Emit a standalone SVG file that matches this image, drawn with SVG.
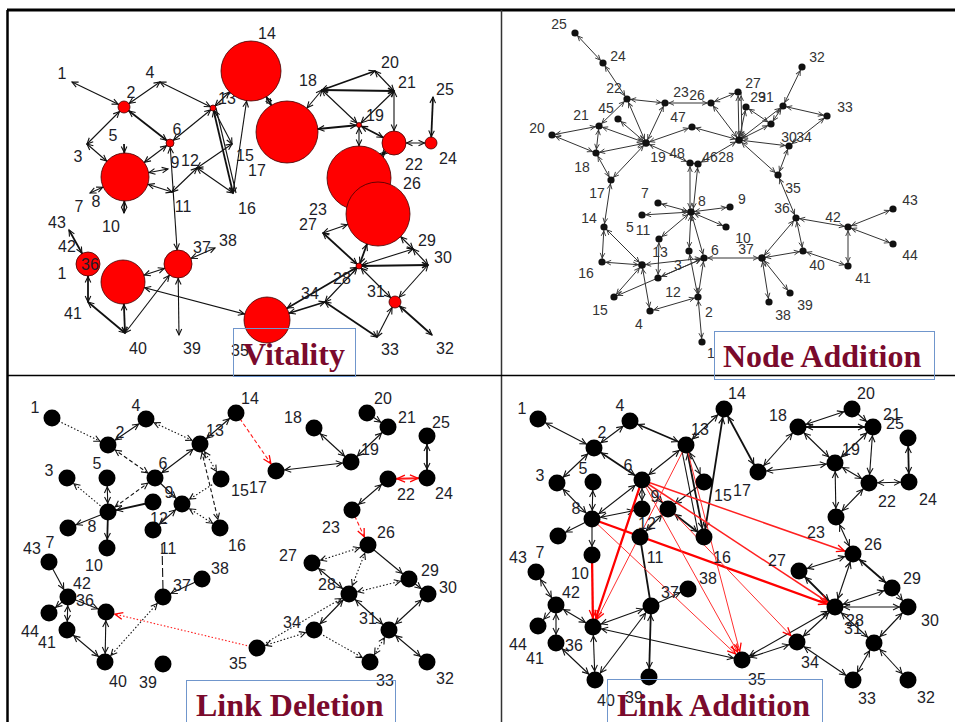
<svg xmlns="http://www.w3.org/2000/svg" width="955" height="722" viewBox="0 0 955 722">
<style>
.e{stroke:#111;stroke-width:1.1;fill:none}
.t{stroke-width:1.8}
.g{stroke:#333;stroke-width:1;fill:none}
.dt{stroke-dasharray:1.5 2}
.ds{stroke-dasharray:4 2.5}
.ld{stroke-dasharray:9 3}
.rd{stroke:#ff1a1a}
.w1{stroke:#ff3030;stroke-width:1}
.w2{stroke:#ff2020;stroke-width:1.5}
.w3{stroke:#ff0000;stroke-width:2.3}
.rc{fill:#ff0000;stroke:#400000;stroke-width:0.8}
.dot{fill:#111}
.bn{fill:#000}
.lv{font-family:"Liberation Sans",Arial,sans-serif;font-size:16px;fill:#1d1d28;text-anchor:middle}
.ln{font-family:"Liberation Sans",Arial,sans-serif;font-size:14px;fill:#333;text-anchor:middle}
.tag{fill:none;stroke:#7096cc;stroke-width:1}
.ttl{font-family:"Liberation Serif","Times New Roman",serif;font-weight:bold;font-size:32px;fill:#7a0a2c}
.ah{fill:none;stroke:#111;stroke-width:1.1}
.ag{fill:none;stroke:#333;stroke-width:0.9}
.ar{fill:none;stroke:#ff0000;stroke-width:1.3}
.a0s{marker-start:url(#k0)}.a0e{marker-end:url(#k0)}
.a3s{marker-start:url(#k3)}.a3e{marker-end:url(#k3)}
.a4s{marker-start:url(#k4)}.a4e{marker-end:url(#k4)}
.a6s{marker-start:url(#k6)}.a6e{marker-end:url(#k6)}
.a12s{marker-start:url(#k12)}.a12e{marker-end:url(#k12)}
.a14s{marker-start:url(#k14)}.a14e{marker-end:url(#k14)}
.a22e{marker-end:url(#k22)}
.a23s{marker-start:url(#k23)}.a23e{marker-end:url(#k23)}
.a24s{marker-start:url(#k24)}.a24e{marker-end:url(#k24)}
.a30s{marker-start:url(#k30)}.a30e{marker-end:url(#k30)}
.a31e{marker-end:url(#k31)}
.a32s{marker-start:url(#k32)}.a32e{marker-end:url(#k32)}
.gb{marker-start:url(#g4);marker-end:url(#g4)}
.bs{marker-start:url(#k9)}.be{marker-end:url(#k9)}
.rs{marker-start:url(#r9)}.re{marker-end:url(#r9)}
</style>
<defs>
<marker id="k0" viewBox="-12 -6 24 12" markerWidth="24" markerHeight="12" refX="0" refY="0" orient="auto-start-reverse" markerUnits="userSpaceOnUse"><path class="ah" d="M-6,-2.8 L0,0 L-6,2.8"/></marker>
<marker id="k3" viewBox="-12 -6 24 12" markerWidth="24" markerHeight="12" refX="3" refY="0" orient="auto-start-reverse" markerUnits="userSpaceOnUse"><path class="ah" d="M-6,-2.8 L0,0 L-6,2.8"/></marker>
<marker id="k4" viewBox="-12 -6 24 12" markerWidth="24" markerHeight="12" refX="4.5" refY="0" orient="auto-start-reverse" markerUnits="userSpaceOnUse"><path class="ah" d="M-6,-2.8 L0,0 L-6,2.8"/></marker>
<marker id="k6" viewBox="-12 -6 24 12" markerWidth="24" markerHeight="12" refX="6.5" refY="0" orient="auto-start-reverse" markerUnits="userSpaceOnUse"><path class="ah" d="M-6,-2.8 L0,0 L-6,2.8"/></marker>
<marker id="k12" viewBox="-12 -6 24 12" markerWidth="24" markerHeight="12" refX="12.5" refY="0" orient="auto-start-reverse" markerUnits="userSpaceOnUse"><path class="ah" d="M-6,-2.8 L0,0 L-6,2.8"/></marker>
<marker id="k14" viewBox="-12 -6 24 12" markerWidth="24" markerHeight="12" refX="14.5" refY="0" orient="auto-start-reverse" markerUnits="userSpaceOnUse"><path class="ah" d="M-6,-2.8 L0,0 L-6,2.8"/></marker>
<marker id="k22" viewBox="-12 -6 24 12" markerWidth="24" markerHeight="12" refX="22.5" refY="0" orient="auto-start-reverse" markerUnits="userSpaceOnUse"><path class="ah" d="M-6,-2.8 L0,0 L-6,2.8"/></marker>
<marker id="k23" viewBox="-12 -6 24 12" markerWidth="24" markerHeight="12" refX="23.5" refY="0" orient="auto-start-reverse" markerUnits="userSpaceOnUse"><path class="ah" d="M-6,-2.8 L0,0 L-6,2.8"/></marker>
<marker id="k24" viewBox="-12 -6 24 12" markerWidth="24" markerHeight="12" refX="24.5" refY="0" orient="auto-start-reverse" markerUnits="userSpaceOnUse"><path class="ah" d="M-6,-2.8 L0,0 L-6,2.8"/></marker>
<marker id="k30" viewBox="-12 -6 24 12" markerWidth="24" markerHeight="12" refX="30.5" refY="0" orient="auto-start-reverse" markerUnits="userSpaceOnUse"><path class="ah" d="M-6,-2.8 L0,0 L-6,2.8"/></marker>
<marker id="k31" viewBox="-12 -6 24 12" markerWidth="24" markerHeight="12" refX="31.5" refY="0" orient="auto-start-reverse" markerUnits="userSpaceOnUse"><path class="ah" d="M-6,-2.8 L0,0 L-6,2.8"/></marker>
<marker id="k32" viewBox="-12 -6 24 12" markerWidth="24" markerHeight="12" refX="32.5" refY="0" orient="auto-start-reverse" markerUnits="userSpaceOnUse"><path class="ah" d="M-6,-2.8 L0,0 L-6,2.8"/></marker>
<marker id="g4" viewBox="-12 -6 24 12" markerWidth="24" markerHeight="12" refX="4" refY="0" orient="auto-start-reverse" markerUnits="userSpaceOnUse"><path class="ag" d="M-5,-2.3 L0,0 L-5,2.3"/></marker>
<marker id="k9" viewBox="-12 -6 24 12" markerWidth="24" markerHeight="12" refX="9" refY="0" orient="auto-start-reverse" markerUnits="userSpaceOnUse"><path class="ah" d="M-6,-3 L0,0 L-6,3"/></marker>
<marker id="r9" viewBox="-12 -6 24 12" markerWidth="24" markerHeight="12" refX="9" refY="0" orient="auto-start-reverse" markerUnits="userSpaceOnUse"><path class="ar" d="M-8,-3.5 L0,0 L-8,3.5"/></marker>
</defs>

<rect width="955" height="722" fill="#fff"/>

<!-- panel frame -->
<g id="frame" fill="none" stroke="#000">
<path d="M7,10 H955" stroke-width="3"/>
<path d="M7.5,10 V722" stroke-width="2.5"/>
<path d="M501.5,10 V722" stroke-width="1.5" stroke="#333"/>
<path d="M7,375.5 H955" stroke-width="1.5"/>
</g>

<!-- ===== Vitality ===== -->
<g id="v-edges">
<line class="e a0s a6e" x1="72" y1="82" x2="124" y2="107"/>
<line class="e a6s a0e" x1="124" y1="107" x2="160" y2="82"/>
<line class="e a0s a3e" x1="160" y1="82" x2="213" y2="108"/>
<line class="e a6s a0e" x1="124" y1="107" x2="87" y2="144"/>
<line class="e t a6s a4e" x1="124" y1="107" x2="170" y2="143"/>
<line class="e a0s a24e" x1="87" y1="144" x2="125" y2="177"/>
<line class="e t a24e" x1="124" y1="144" x2="125" y2="177"/>
<line class="e t a24s a0e" x1="125" y1="177" x2="124" y2="213"/>
<line class="e a24s a0e" x1="125" y1="177" x2="90" y2="193"/>
<line class="e a4s a24e" x1="170" y1="143" x2="125" y2="177"/>
<line class="e a24s a0e" x1="125" y1="177" x2="168" y2="169"/>
<line class="e a24s a0e" x1="125" y1="177" x2="172" y2="192"/>
<line class="e a0s a0e" x1="172" y1="192" x2="197" y2="168"/>
<line class="e a0s a0e" x1="197" y1="168" x2="232" y2="144"/>
<line class="e a0s a0e" x1="197" y1="168" x2="233" y2="193"/>
<line class="e a4s a3e" x1="170" y1="143" x2="213" y2="108"/>
<line class="e a3s a0e" x1="213" y1="108" x2="232" y2="144"/>
<line class="e t a3s a0e" x1="213" y1="108" x2="233" y2="193"/>
<line class="e" x1="216" y1="108" x2="236" y2="193"/>
<line class="e a0s a30e" x1="233" y1="193" x2="251" y2="71"/>
<line class="e a4s a14e" x1="170" y1="143" x2="178" y2="264"/>
<line class="e a3s a30e" x1="213" y1="108" x2="251" y2="71"/>
<line class="e t a30s a31e" x1="251" y1="71" x2="287" y2="132"/>
<line class="e a0s a31e" x1="322" y1="90" x2="287" y2="132"/>
<line class="e t a0s a0e" x1="322" y1="90" x2="375" y2="71"/>
<line class="e t a0s a0e" x1="322" y1="90" x2="394" y2="91"/>
<line class="e a0s a3e" x1="322" y1="90" x2="359" y2="125"/>
<line class="e a0s a0e" x1="375" y1="71" x2="394" y2="91"/>
<line class="e a0s a3e" x1="394" y1="91" x2="359" y2="125"/>
<line class="e a0s a12e" x1="394" y1="91" x2="394" y2="143"/>
<line class="e t a3s a31e" x1="359" y1="125" x2="287" y2="132"/>
<line class="e t a3s a12e" x1="359" y1="125" x2="394" y2="143"/>
<line class="e a3s a32e" x1="359" y1="125" x2="359" y2="178"/>
<line class="e t a12s a32e" x1="394" y1="143" x2="359" y2="178"/>
<line class="e a12s a6e" x1="394" y1="143" x2="431" y2="143"/>
<line class="e t a6s a0e" x1="431" y1="143" x2="433" y2="97"/>
<line class="e a32s a0e" x1="378" y1="214" x2="323" y2="233"/>
<line class="e t a0s a3e" x1="323" y1="233" x2="359" y2="266"/>
<line class="e t a32s a3e" x1="378" y1="214" x2="359" y2="266"/>
<line class="e a32s a0e" x1="378" y1="214" x2="413" y2="249"/>
<line class="e a3s a0e" x1="359" y1="266" x2="413" y2="249"/>
<line class="e t a3s a0e" x1="359" y1="266" x2="428" y2="265"/>
<line class="e a0s a0e" x1="413" y1="249" x2="428" y2="265"/>
<line class="e a0s a6e" x1="428" y1="265" x2="395" y2="302"/>
<line class="e a3s a6e" x1="359" y1="266" x2="395" y2="302"/>
<line class="e a3s a0e" x1="359" y1="266" x2="325" y2="302"/>
<line class="e t a3s a23e" x1="359" y1="266" x2="267" y2="320"/>
<line class="e t a0s a23e" x1="325" y1="302" x2="267" y2="320"/>
<line class="e t a0s a0e" x1="325" y1="302" x2="377" y2="337"/>
<line class="e a0s a6e" x1="377" y1="337" x2="395" y2="302"/>
<line class="e t a6s a0e" x1="395" y1="302" x2="432" y2="335"/>
<line class="e a23s a22e" x1="267" y1="320" x2="123" y2="282"/>
<line class="e a14s a22e" x1="178" y1="264" x2="123" y2="282"/>
<line class="e a14s a0e" x1="178" y1="264" x2="215" y2="248"/>
<line class="e a14s a0e" x1="178" y1="264" x2="179" y2="335"/>
<line class="e a0s a14e" x1="125" y1="333" x2="178" y2="264"/>
<line class="e t a0s a22e" x1="125" y1="333" x2="123" y2="282"/>
<line class="e t a0s a0e" x1="125" y1="333" x2="88" y2="302"/>
<line class="e t a0s a12e" x1="88" y1="302" x2="88" y2="264"/>
<line class="e t a0s a12e" x1="69" y1="230" x2="88" y2="264"/>
</g>
<g id="v-nodes">
<g id="v-n1"><text class="lv" x="62" y="79">1</text></g>
<g id="v-n2"><circle class="rc" cx="124" cy="107" r="6"/><text class="lv" x="131" y="98">2</text></g>
<g id="v-n4"><text class="lv" x="150" y="78">4</text></g>
<g id="v-n13"><circle class="rc" cx="213" cy="108" r="3"/><text class="lv" x="227" y="104">13</text></g>
<g id="v-n3"><text class="lv" x="78" y="162">3</text></g>
<g id="v-n5"><text class="lv" x="113" y="141">5</text></g>
<g id="v-n8"><circle class="rc" cx="125" cy="177" r="24"/><text class="lv" x="96" y="207">8</text></g>
<g id="v-n7"><text class="lv" x="79" y="212">7</text></g>
<g id="v-n10"><text class="lv" x="111" y="232">10</text></g>
<g id="v-n6"><circle class="rc" cx="170" cy="143" r="4"/><text class="lv" x="177" y="135">6</text></g>
<g id="v-n9"><text class="lv" x="175" y="168">9</text></g>
<g id="v-n12"><text class="lv" x="190" y="166">12</text></g>
<g id="v-n11"><text class="lv" x="183" y="212">11</text></g>
<g id="v-n15"><text class="lv" x="245" y="161">15</text></g>
<g id="v-n16"><text class="lv" x="247" y="214">16</text></g>
<g id="v-n14"><circle class="rc" cx="251" cy="71" r="30"/><text class="lv" x="267" y="39">14</text></g>
<g id="v-n17"><circle class="rc" cx="287" cy="132" r="31"/><text class="lv" x="257" y="176">17</text></g>
<g id="v-n18"><text class="lv" x="308" y="86">18</text></g>
<g id="v-n20"><text class="lv" x="390" y="68">20</text></g>
<g id="v-n21"><text class="lv" x="407" y="88">21</text></g>
<g id="v-n19"><circle class="rc" cx="359" cy="125" r="2.5"/><text class="lv" x="375" y="121">19</text></g>
<g id="v-n22"><circle class="rc" cx="394" cy="143" r="12"/><text class="lv" x="414" y="170">22</text></g>
<g id="v-n24"><circle class="rc" cx="431" cy="143" r="6"/><text class="lv" x="448" y="164">24</text></g>
<g id="v-n25"><text class="lv" x="445" y="95">25</text></g>
<g id="v-n23"><circle class="rc" cx="359" cy="178" r="32"/><text class="lv" x="318" y="215">23</text></g>
<g id="v-n26"><circle class="rc" cx="378" cy="214" r="32"/><text class="lv" x="412" y="189">26</text></g>
<g id="v-n27"><text class="lv" x="308" y="230">27</text></g>
<g id="v-n29"><text class="lv" x="427" y="246">29</text></g>
<g id="v-n30"><text class="lv" x="443" y="263">30</text></g>
<g id="v-n28"><circle class="rc" cx="359" cy="266" r="3"/><text class="lv" x="342" y="284">28</text></g>
<g id="v-n31"><circle class="rc" cx="395" cy="302" r="6"/><text class="lv" x="376" y="297">31</text></g>
<g id="v-n34"><text class="lv" x="310" y="299">34</text></g>
<g id="v-n33"><text class="lv" x="390" y="355">33</text></g>
<g id="v-n32"><text class="lv" x="445" y="354">32</text></g>
<g id="v-n35"><circle class="rc" cx="267" cy="320" r="23"/><text class="lv" x="240" y="356">35</text></g>
<g id="v-n43"><text class="lv" x="57" y="228">43</text></g>
<g id="v-n42"><circle class="rc" cx="88" cy="264" r="12"/><text class="lv" x="67" y="252">42</text></g>
<g id="v-n44"><text class="lv" x="62" y="279">1</text></g>
<g id="v-n36"><circle class="rc" cx="123" cy="282" r="22"/><text class="lv" x="90" y="270">36</text></g>
<g id="v-n41"><text class="lv" x="73" y="319">41</text></g>
<g id="v-n40"><text class="lv" x="138" y="354">40</text></g>
<g id="v-n37"><circle class="rc" cx="178" cy="264" r="14"/><text class="lv" x="202" y="253">37</text></g>
<g id="v-n38"><text class="lv" x="228" y="246">38</text></g>
<g id="v-n39"><text class="lv" x="192" y="354">39</text></g>
</g>
<g id="v-title"><rect class="tag" x="233.5" y="328.5" width="122" height="48"/><text class="ttl" x="243" y="365">Vitality</text></g>

<!-- ===== Node Addition ===== -->
<g id="na-edges">
<line class="g gb" x1="575" y1="33" x2="603" y2="63"/>
<line class="g gb" x1="603" y1="63" x2="627" y2="99"/>
<line class="g gb" x1="627" y1="99" x2="599" y2="126"/>
<line class="g gb" x1="627" y1="99" x2="665" y2="103"/>
<line class="g gb" x1="627" y1="99" x2="646" y2="143"/>
<line class="g gb" x1="665" y1="103" x2="646" y2="143"/>
<line class="g gb" x1="665" y1="103" x2="711" y2="103"/>
<line class="g gb" x1="711" y1="103" x2="738" y2="92"/>
<line class="g gb" x1="711" y1="103" x2="739" y2="140"/>
<line class="g gb" x1="738" y1="92" x2="739" y2="140"/>
<line class="g gb" x1="741" y1="92" x2="742" y2="140"/>
<line class="g gb" x1="746" y1="107" x2="739" y2="140"/>
<line class="g gb" x1="746" y1="107" x2="771" y2="124"/>
<line class="g gb" x1="771" y1="124" x2="739" y2="140"/>
<line class="g gb" x1="783" y1="106" x2="771" y2="124"/>
<line class="g gb" x1="783" y1="106" x2="739" y2="140"/>
<line class="g gb" x1="783" y1="106" x2="802" y2="67"/>
<line class="g gb" x1="783" y1="106" x2="827" y2="116"/>
<line class="g gb" x1="789" y1="146" x2="827" y2="116"/>
<line class="g gb" x1="739" y1="140" x2="789" y2="146"/>
<line class="g gb" x1="739" y1="140" x2="778" y2="175"/>
<line class="g gb" x1="789" y1="146" x2="778" y2="175"/>
<line class="g gb" x1="739" y1="140" x2="692" y2="127"/>
<line class="g gb" x1="692" y1="127" x2="646" y2="143"/>
<line class="g gb" x1="646" y1="143" x2="690" y2="163"/>
<line class="g gb" x1="690" y1="163" x2="698" y2="164"/>
<line class="g gb" x1="698" y1="164" x2="739" y2="140"/>
<line class="g gb" x1="646" y1="143" x2="618" y2="119"/>
<line class="g gb" x1="646" y1="143" x2="599" y2="126"/>
<line class="g gb" x1="646" y1="143" x2="596" y2="153"/>
<line class="g gb" x1="646" y1="143" x2="611" y2="180"/>
<line class="g gb" x1="552" y1="135" x2="599" y2="126"/>
<line class="g gb" x1="552" y1="135" x2="596" y2="153"/>
<line class="g gb" x1="599" y1="126" x2="596" y2="153"/>
<line class="g gb" x1="596" y1="153" x2="611" y2="180"/>
<line class="g gb" x1="611" y1="180" x2="604" y2="227"/>
<line class="g gb" x1="604" y1="227" x2="602" y2="262"/>
<line class="g gb" x1="604" y1="227" x2="642" y2="265"/>
<line class="g gb" x1="602" y1="262" x2="642" y2="265"/>
<line class="g gb" x1="642" y1="265" x2="614" y2="297"/>
<line class="g gb" x1="642" y1="265" x2="650" y2="311"/>
<line class="g gb" x1="642" y1="265" x2="704" y2="258"/>
<line class="g gb" x1="658" y1="278" x2="704" y2="258"/>
<line class="g gb" x1="614" y1="297" x2="704" y2="258"/>
<line class="g gb" x1="659" y1="239" x2="658" y2="278"/>
<line class="g gb" x1="691" y1="212" x2="659" y2="239"/>
<line class="g gb" x1="691" y1="212" x2="658" y2="203"/>
<line class="g gb" x1="691" y1="212" x2="642" y2="215"/>
<line class="g gb" x1="691" y1="212" x2="730" y2="207"/>
<line class="g gb" x1="691" y1="212" x2="726" y2="227"/>
<line class="g gb" x1="691" y1="212" x2="689" y2="251"/>
<line class="g gb" x1="691" y1="212" x2="704" y2="258"/>
<line class="g gb" x1="690" y1="163" x2="690" y2="212"/>
<line class="g gb" x1="698" y1="164" x2="693" y2="212"/>
<line class="g gb" x1="689" y1="251" x2="698" y2="297"/>
<line class="g gb" x1="704" y1="258" x2="698" y2="297"/>
<line class="g gb" x1="698" y1="297" x2="650" y2="311"/>
<line class="g gb" x1="698" y1="297" x2="702" y2="342"/>
<line class="g gb" x1="704" y1="258" x2="762" y2="258"/>
<line class="g gb" x1="762" y1="258" x2="796" y2="218"/>
<line class="g gb" x1="762" y1="258" x2="803" y2="251"/>
<line class="g gb" x1="762" y1="258" x2="769" y2="302"/>
<line class="g gb" x1="762" y1="258" x2="790" y2="293"/>
<line class="g gb" x1="796" y1="218" x2="803" y2="251"/>
<line class="g gb" x1="796" y1="218" x2="848" y2="227"/>
<line class="g gb" x1="848" y1="227" x2="848" y2="266"/>
<line class="g gb" x1="803" y1="251" x2="848" y2="266"/>
<line class="g gb" x1="848" y1="227" x2="893" y2="209"/>
<line class="g gb" x1="848" y1="227" x2="893" y2="244"/>
<line class="g gb" x1="796" y1="218" x2="778" y2="175"/>
</g>
<g id="na-nodes">
<g id="na-25"><circle class="dot" cx="575" cy="33" r="3.6"/><text class="ln" x="559" y="29">25</text></g>
<g id="na-24"><circle class="dot" cx="603" cy="63" r="3.6"/><text class="ln" x="618" y="61">24</text></g>
<g id="na-22"><circle class="dot" cx="627" cy="99" r="3.6"/><text class="ln" x="614" y="93">22</text></g>
<g id="na-23"><circle class="dot" cx="665" cy="103" r="3.6"/><text class="ln" x="681" y="97">23</text></g>
<g id="na-26"><circle class="dot" cx="711" cy="103" r="3.6"/><text class="ln" x="697" y="100">26</text></g>
<g id="na-27"><circle class="dot" cx="738" cy="92" r="3.6"/><text class="ln" x="753" y="88">27</text></g>
<g id="na-29"><circle class="dot" cx="746" cy="107" r="3.6"/><text class="ln" x="758" y="102">29</text></g>
<g id="na-31"><circle class="dot" cx="783" cy="106" r="3.6"/><text class="ln" x="766" y="102">31</text></g>
<g id="na-32"><circle class="dot" cx="802" cy="67" r="3.6"/><text class="ln" x="817" y="62">32</text></g>
<g id="na-33"><circle class="dot" cx="827" cy="116" r="3.6"/><text class="ln" x="845" y="112">33</text></g>
<g id="na-50"><circle class="dot" cx="771" cy="124" r="3.6"/></g>
<g id="na-28"><circle class="dot" cx="739" cy="140" r="3.8"/><text class="ln" x="726" y="162">28</text></g>
<g id="na-47"><circle class="dot" cx="692" cy="127" r="3.6"/><text class="ln" x="678" y="122">47</text></g>
<g id="na-45"><circle class="dot" cx="618" cy="119" r="3.6"/><text class="ln" x="606" y="113">45</text></g>
<g id="na-21"><circle class="dot" cx="599" cy="126" r="3.6"/><text class="ln" x="581" y="120">21</text></g>
<g id="na-20"><circle class="dot" cx="552" cy="135" r="3.6"/><text class="ln" x="537" y="133">20</text></g>
<g id="na-18"><circle class="dot" cx="596" cy="153" r="3.6"/><text class="ln" x="582" y="172">18</text></g>
<g id="na-19"><circle class="dot" cx="646" cy="143" r="3.8"/><text class="ln" x="658" y="162">19</text></g>
<g id="na-48"><circle class="dot" cx="690" cy="163" r="3.6"/><text class="ln" x="677" y="158">48</text></g>
<g id="na-46"><circle class="dot" cx="698" cy="164" r="3.6"/><text class="ln" x="710" y="162">46</text></g>
<g id="na-30"><circle class="dot" cx="789" cy="146" r="3.6"/><text class="ln" x="789" y="142">30</text></g>
<g id="na-34"><text class="ln" x="804" y="142">34</text></g>
<g id="na-35"><circle class="dot" cx="778" cy="175" r="3.6"/><text class="ln" x="793" y="193">35</text></g>
<g id="na-17"><circle class="dot" cx="611" cy="180" r="3.6"/><text class="ln" x="597" y="198">17</text></g>
<g id="na-14"><circle class="dot" cx="604" cy="227" r="3.6"/><text class="ln" x="589" y="223">14</text></g>
<g id="na-16"><circle class="dot" cx="602" cy="262" r="3.6"/><text class="ln" x="586" y="278">16</text></g>
<g id="na-13"><circle class="dot" cx="642" cy="265" r="3.8"/><text class="ln" x="660" y="257">13</text></g>
<g id="na-12"><circle class="dot" cx="658" cy="278" r="3.6"/><text class="ln" x="673" y="297">12</text></g>
<g id="na-15"><circle class="dot" cx="614" cy="297" r="3.6"/><text class="ln" x="600" y="315">15</text></g>
<g id="na-4"><circle class="dot" cx="650" cy="311" r="3.6"/><text class="ln" x="639" y="329">4</text></g>
<g id="na-3"><circle class="dot" cx="689" cy="251" r="3.6"/><text class="ln" x="678" y="270">3</text></g>
<g id="na-6"><circle class="dot" cx="704" cy="258" r="3.6"/><text class="ln" x="715" y="255">6</text></g>
<g id="na-2"><circle class="dot" cx="698" cy="297" r="3.6"/><text class="ln" x="709" y="317">2</text></g>
<g id="na-1"><circle class="dot" cx="702" cy="342" r="3.6"/><text class="ln" x="711" y="358">1</text></g>
<g id="na-7"><circle class="dot" cx="658" cy="203" r="3.6"/><text class="ln" x="645" y="198">7</text></g>
<g id="na-8"><circle class="dot" cx="691" cy="212" r="3.8"/><text class="ln" x="702" y="206">8</text></g>
<g id="na-9"><circle class="dot" cx="730" cy="207" r="3.6"/><text class="ln" x="742" y="204">9</text></g>
<g id="na-10"><circle class="dot" cx="726" cy="227" r="3.6"/><text class="ln" x="743" y="243">10</text></g>
<g id="na-11"><circle class="dot" cx="642" cy="215" r="3.6"/><text class="ln" x="643" y="235">11</text></g>
<g id="na-5"><circle class="dot" cx="659" cy="239" r="3.6"/><text class="ln" x="630" y="232">5</text></g>
<g id="na-37"><circle class="dot" cx="762" cy="258" r="3.8"/><text class="ln" x="746" y="254">37</text></g>
<g id="na-36"><circle class="dot" cx="796" cy="218" r="3.6"/><text class="ln" x="782" y="213">36</text></g>
<g id="na-42"><circle class="dot" cx="848" cy="227" r="3.6"/><text class="ln" x="833" y="222">42</text></g>
<g id="na-43"><circle class="dot" cx="893" cy="209" r="3.6"/><text class="ln" x="910" y="205">43</text></g>
<g id="na-44"><circle class="dot" cx="893" cy="244" r="3.6"/><text class="ln" x="910" y="260">44</text></g>
<g id="na-41"><circle class="dot" cx="848" cy="266" r="3.6"/><text class="ln" x="863" y="283">41</text></g>
<g id="na-40"><circle class="dot" cx="803" cy="251" r="3.6"/><text class="ln" x="817" y="270">40</text></g>
<g id="na-38"><circle class="dot" cx="769" cy="302" r="3.6"/><text class="ln" x="783" y="320">38</text></g>
<g id="na-39"><circle class="dot" cx="790" cy="293" r="3.6"/><text class="ln" x="805" y="310">39</text></g>
</g>
<g id="na-title"><rect class="tag" x="714.5" y="331.5" width="220" height="48"/><text class="ttl" x="723" y="367">Node Addition</text></g>

<!-- ===== Link Deletion ===== -->
<g id="ld-edges">
<line class="e dt be" x1="52" y1="418" x2="108" y2="445"/>
<line class="e bs be" x1="108" y1="445" x2="146" y2="419"/>
<line class="e dt bs be" x1="146" y1="419" x2="200" y2="444"/>
<line class="e bs be" x1="200" y1="444" x2="236" y2="413"/>
<line class="e ds rd re" x1="236" y1="413" x2="276" y2="471"/>
<line class="e ds bs be" x1="108" y1="445" x2="155" y2="478"/>
<line class="e bs be" x1="155" y1="478" x2="200" y2="444"/>
<line class="e dt bs be" x1="200" y1="444" x2="221" y2="479"/>
<line class="e ds bs be" x1="200" y1="444" x2="220" y2="528"/>
<line class="e dt be" x1="221" y1="479" x2="182" y2="504"/>
<line class="e dt bs be" x1="182" y1="504" x2="220" y2="528"/>
<line class="e be" x1="155" y1="478" x2="182" y2="504"/>
<line class="e ds bs be" x1="155" y1="478" x2="108" y2="512"/>
<line class="e t be" x1="153" y1="502" x2="108" y2="512"/>
<line class="e dt bs" x1="67" y1="478" x2="108" y2="512"/>
<line class="e bs be" x1="107" y1="478" x2="108" y2="512"/>
<line class="e t be" x1="108" y1="512" x2="107" y2="548"/>
<line class="e be" x1="108" y1="512" x2="68" y2="528"/>
<line class="e bs be" x1="182" y1="504" x2="153" y2="530"/>
<line class="e ld" x1="162" y1="544" x2="163" y2="590"/>
<line class="e be" x1="49" y1="562" x2="68" y2="597"/>
<line class="e be" x1="68" y1="597" x2="49" y2="613"/>
<line class="e bs be" x1="68" y1="597" x2="67" y2="630"/>
<line class="e be" x1="68" y1="597" x2="106" y2="612"/>
<line class="e bs be" x1="106" y1="612" x2="105" y2="662"/>
<line class="e bs be" x1="67" y1="630" x2="105" y2="662"/>
<line class="e dt bs be" x1="105" y1="662" x2="163" y2="597"/>
<line class="e bs" x1="163" y1="597" x2="202" y2="579"/>
<line class="e dt rd rs" x1="106" y1="612" x2="257" y2="648"/>
<line class="e dt bs be" x1="257" y1="648" x2="314" y2="630"/>
<line class="e dt be" x1="257" y1="648" x2="349" y2="594"/>
<line class="e bs be" x1="314" y1="630" x2="349" y2="594"/>
<line class="e dt be" x1="314" y1="630" x2="370" y2="662"/>
<line class="e bs be" x1="349" y1="594" x2="312" y2="563"/>
<line class="e dt bs be" x1="349" y1="594" x2="368" y2="545"/>
<line class="e dt bs be" x1="312" y1="563" x2="368" y2="545"/>
<line class="e be" x1="368" y1="545" x2="409" y2="579"/>
<line class="e dt bs be" x1="349" y1="594" x2="409" y2="579"/>
<line class="e be" x1="409" y1="579" x2="428" y2="594"/>
<line class="e bs be" x1="349" y1="594" x2="389" y2="630"/>
<line class="e bs be" x1="389" y1="630" x2="428" y2="594"/>
<line class="e dt bs be" x1="389" y1="630" x2="370" y2="662"/>
<line class="e bs be" x1="389" y1="630" x2="427" y2="662"/>
<line class="e ds rd re" x1="352" y1="510" x2="368" y2="545"/>
<line class="e bs be" x1="352" y1="510" x2="388" y2="479"/>
<line class="e t rd rs re" x1="388" y1="479" x2="427" y2="478"/>
<line class="e t bs be" x1="427" y1="478" x2="427" y2="436"/>
<line class="e bs be" x1="351" y1="462" x2="276" y2="471"/>
<line class="e bs be" x1="351" y1="462" x2="314" y2="428"/>
<line class="e bs be" x1="351" y1="462" x2="388" y2="427"/>
<line class="e be" x1="367" y1="413" x2="388" y2="427"/>
</g>
<g id="ld-nodes">
<g id="ld-1"><circle class="bn" cx="52" cy="418" r="8.5"/><text class="lv" x="35" y="413">1</text></g>
<g id="ld-4"><circle class="bn" cx="146" cy="419" r="8.5"/><text class="lv" x="136" y="411">4</text></g>
<g id="ld-2"><circle class="bn" cx="108" cy="445" r="8.5"/><text class="lv" x="120" y="438">2</text></g>
<g id="ld-13"><circle class="bn" cx="200" cy="444" r="8.5"/><text class="lv" x="215" y="436">13</text></g>
<g id="ld-14"><circle class="bn" cx="236" cy="413" r="8.5"/><text class="lv" x="250" y="404">14</text></g>
<g id="ld-5"><circle class="bn" cx="107" cy="478" r="8.5"/><text class="lv" x="97" y="469">5</text></g>
<g id="ld-3"><circle class="bn" cx="67" cy="478" r="8.5"/><text class="lv" x="49" y="476">3</text></g>
<g id="ld-6"><circle class="bn" cx="155" cy="478" r="8.5"/><text class="lv" x="163" y="469">6</text></g>
<g id="ld-12"><circle class="bn" cx="153" cy="502" r="8.5"/><text class="lv" x="159" y="524">12</text></g>
<g id="ld-9"><circle class="bn" cx="182" cy="504" r="8.5"/><text class="lv" x="169" y="498">9</text></g>
<g id="ld-15"><circle class="bn" cx="221" cy="479" r="8.5"/><text class="lv" x="240" y="496">15</text></g>
<g id="ld-8"><circle class="bn" cx="108" cy="512" r="8.5"/><text class="lv" x="92" y="532">8</text></g>
<g id="ld-11"><circle class="bn" cx="153" cy="530" r="8.5"/><text class="lv" x="168" y="554">11</text></g>
<g id="ld-16"><circle class="bn" cx="220" cy="528" r="8.5"/><text class="lv" x="237" y="551">16</text></g>
<g id="ld-7"><circle class="bn" cx="68" cy="528" r="8.5"/><text class="lv" x="50" y="548">7</text></g>
<g id="ld-10"><circle class="bn" cx="107" cy="548" r="8.5"/><text class="lv" x="94" y="571">10</text></g>
<g id="ld-43"><circle class="bn" cx="49" cy="562" r="8.5"/><text class="lv" x="32" y="554">43</text></g>
<g id="ld-38"><circle class="bn" cx="202" cy="579" r="8.5"/><text class="lv" x="220" y="574">38</text></g>
<g id="ld-42"><circle class="bn" cx="68" cy="597" r="8.5"/><text class="lv" x="82" y="589">42</text></g>
<g id="ld-37"><circle class="bn" cx="163" cy="597" r="8.5"/><text class="lv" x="182" y="591">37</text></g>
<g id="ld-36"><circle class="bn" cx="106" cy="612" r="8.5"/><text class="lv" x="85" y="606">36</text></g>
<g id="ld-44"><circle class="bn" cx="49" cy="613" r="8.5"/><text class="lv" x="30" y="637">44</text></g>
<g id="ld-41"><circle class="bn" cx="67" cy="630" r="8.5"/><text class="lv" x="47" y="648">41</text></g>
<g id="ld-40"><circle class="bn" cx="105" cy="662" r="8.5"/><text class="lv" x="118" y="687">40</text></g>
<g id="ld-39"><circle class="bn" cx="163" cy="664" r="8.5"/><text class="lv" x="148" y="688">39</text></g>
<g id="ld-35"><circle class="bn" cx="257" cy="648" r="8.5"/><text class="lv" x="238" y="669">35</text></g>
<g id="ld-34"><circle class="bn" cx="314" cy="630" r="8.5"/><text class="lv" x="292" y="628">34</text></g>
<g id="ld-33"><circle class="bn" cx="370" cy="662" r="8.5"/><text class="lv" x="385" y="686">33</text></g>
<g id="ld-32"><circle class="bn" cx="427" cy="662" r="8.5"/><text class="lv" x="445" y="684">32</text></g>
<g id="ld-31"><circle class="bn" cx="389" cy="630" r="8.5"/><text class="lv" x="368" y="624">31</text></g>
<g id="ld-30"><circle class="bn" cx="428" cy="594" r="8.5"/><text class="lv" x="448" y="593">30</text></g>
<g id="ld-29"><circle class="bn" cx="409" cy="579" r="8.5"/><text class="lv" x="430" y="576">29</text></g>
<g id="ld-28"><circle class="bn" cx="349" cy="594" r="8.5"/><text class="lv" x="327" y="590">28</text></g>
<g id="ld-27"><circle class="bn" cx="312" cy="563" r="8.5"/><text class="lv" x="288" y="561">27</text></g>
<g id="ld-26"><circle class="bn" cx="368" cy="545" r="8.5"/><text class="lv" x="386" y="538">26</text></g>
<g id="ld-23"><circle class="bn" cx="352" cy="510" r="8.5"/><text class="lv" x="331" y="533">23</text></g>
<g id="ld-22"><circle class="bn" cx="388" cy="479" r="8.5"/><text class="lv" x="406" y="500">22</text></g>
<g id="ld-24"><circle class="bn" cx="427" cy="478" r="8.5"/><text class="lv" x="444" y="499">24</text></g>
<g id="ld-25"><circle class="bn" cx="427" cy="436" r="8.5"/><text class="lv" x="441" y="428">25</text></g>
<g id="ld-19"><circle class="bn" cx="351" cy="462" r="8.5"/><text class="lv" x="370" y="455">19</text></g>
<g id="ld-17"><circle class="bn" cx="276" cy="471" r="8.5"/><text class="lv" x="258" y="493">17</text></g>
<g id="ld-18"><circle class="bn" cx="314" cy="428" r="8.5"/><text class="lv" x="293" y="423">18</text></g>
<g id="ld-20"><circle class="bn" cx="367" cy="413" r="8.5"/><text class="lv" x="383" y="404">20</text></g>
<g id="ld-21"><circle class="bn" cx="388" cy="427" r="8.5"/><text class="lv" x="407" y="423">21</text></g>
</g>
<g id="ld-title"><rect class="tag" x="186.5" y="680.5" width="209" height="50"/><text class="ttl" x="196" y="716">Link Deletion</text></g>

<!-- ===== Link Addition ===== -->
<g id="la-edges">
<line class="e bs be" x1="538" y1="419" x2="594" y2="448"/>
<line class="e bs be" x1="594" y1="448" x2="630" y2="421"/>
<line class="e t bs be" x1="630" y1="421" x2="686" y2="445"/>
<line class="e bs be" x1="686" y1="445" x2="724" y2="409"/>
<line class="e t bs be" x1="724" y1="409" x2="758" y2="472"/>
<line class="e t bs be" x1="724" y1="409" x2="704" y2="537"/>
<line class="e bs be" x1="594" y1="448" x2="557" y2="483"/>
<line class="e t bs be" x1="594" y1="448" x2="642" y2="480"/>
<line class="e bs be" x1="642" y1="480" x2="686" y2="445"/>
<line class="e bs be" x1="686" y1="445" x2="704" y2="482"/>
<line class="e t bs be" x1="686" y1="445" x2="704" y2="537"/>
<line class="e" x1="681" y1="446" x2="699" y2="537"/>
<line class="e bs be" x1="557" y1="483" x2="592" y2="519"/>
<line class="e bs be" x1="593" y1="482" x2="592" y2="519"/>
<line class="e bs be" x1="642" y1="480" x2="592" y2="519"/>
<line class="e bs be" x1="592" y1="519" x2="642" y2="509"/>
<line class="e be" x1="592" y1="519" x2="592" y2="555"/>
<line class="e be" x1="592" y1="519" x2="558" y2="536"/>
<line class="e bs be" x1="642" y1="480" x2="642" y2="509"/>
<line class="e be" x1="642" y1="480" x2="668" y2="509"/>
<line class="e bs be" x1="668" y1="509" x2="640" y2="537"/>
<line class="e t bs be" x1="668" y1="509" x2="704" y2="537"/>
<line class="e be" x1="704" y1="482" x2="668" y2="509"/>
<line class="e t" x1="640" y1="537" x2="651" y2="606"/>
<line class="e be" x1="651" y1="606" x2="688" y2="589"/>
<line class="e t bs be" x1="651" y1="606" x2="649" y2="677"/>
<line class="e bs be" x1="651" y1="606" x2="593" y2="627"/>
<line class="e bs be" x1="651" y1="606" x2="595" y2="680"/>
<line class="e bs be" x1="593" y1="627" x2="556" y2="605"/>
<line class="e bs be" x1="556" y1="605" x2="536" y2="572"/>
<line class="e be" x1="556" y1="605" x2="538" y2="626"/>
<line class="e bs be" x1="556" y1="605" x2="556" y2="643"/>
<line class="e bs be" x1="556" y1="643" x2="595" y2="680"/>
<line class="e bs be" x1="593" y1="627" x2="595" y2="680"/>
<line class="e bs be" x1="593" y1="627" x2="742" y2="660"/>
<line class="e bs be" x1="742" y1="660" x2="797" y2="642"/>
<line class="e bs be" x1="742" y1="660" x2="835" y2="607"/>
<line class="e bs be" x1="797" y1="642" x2="835" y2="607"/>
<line class="e bs be" x1="797" y1="642" x2="853" y2="680"/>
<line class="e bs be" x1="874" y1="643" x2="853" y2="680"/>
<line class="e bs be" x1="874" y1="643" x2="908" y2="680"/>
<line class="e bs be" x1="874" y1="643" x2="908" y2="607"/>
<line class="e bs be" x1="835" y1="607" x2="874" y2="643"/>
<line class="e bs be" x1="835" y1="607" x2="908" y2="607"/>
<line class="e bs be" x1="835" y1="607" x2="892" y2="588"/>
<line class="e be" x1="892" y1="588" x2="908" y2="607"/>
<line class="e t bs be" x1="892" y1="588" x2="853" y2="554"/>
<line class="e bs be" x1="853" y1="554" x2="799" y2="571"/>
<line class="e t bs be" x1="835" y1="607" x2="799" y2="571"/>
<line class="e bs be" x1="853" y1="554" x2="835" y2="607"/>
<line class="e bs be" x1="853" y1="554" x2="836" y2="517"/>
<line class="e bs be" x1="836" y1="517" x2="835" y2="463"/>
<line class="e bs be" x1="836" y1="517" x2="869" y2="483"/>
<line class="e bs be" x1="869" y1="483" x2="835" y2="463"/>
<line class="e bs be" x1="869" y1="483" x2="873" y2="427"/>
<line class="e bs be" x1="869" y1="483" x2="909" y2="482"/>
<line class="e t bs be" x1="909" y1="482" x2="908" y2="438"/>
<line class="e bs be" x1="835" y1="463" x2="798" y2="427"/>
<line class="e bs be" x1="835" y1="463" x2="758" y2="472"/>
<line class="e bs be" x1="835" y1="463" x2="873" y2="427"/>
<line class="e bs be" x1="798" y1="427" x2="758" y2="472"/>
<line class="e bs be" x1="798" y1="427" x2="852" y2="409"/>
<line class="e t bs be" x1="798" y1="427" x2="873" y2="427"/>
<line class="e be" x1="852" y1="409" x2="873" y2="427"/>
<!-- added links -->
<line class="w3 re" x1="592" y1="555" x2="593" y2="627"/>
<line class="w3 re" x1="642" y1="480" x2="593" y2="627"/>
<line class="w1 re" x1="686" y1="445" x2="593" y2="627"/>
<line class="w3 re" x1="592" y1="519" x2="835" y2="607"/>
<line class="w2 re" x1="642" y1="480" x2="853" y2="554"/>
<line class="w2 re" x1="642" y1="480" x2="835" y2="607"/>
<line class="w1 re" x1="642" y1="480" x2="742" y2="660"/>
<line class="w1 re" x1="592" y1="519" x2="742" y2="660"/>
<line class="w1 re" x1="686" y1="445" x2="742" y2="660"/>
<line class="w1 re" x1="642" y1="480" x2="797" y2="642"/>
</g>
<g id="la-nodes">
<g id="la-1"><circle class="bn" cx="538" cy="419" r="8.5"/><text class="lv" x="522" y="414">1</text></g>
<g id="la-4"><circle class="bn" cx="630" cy="421" r="8.5"/><text class="lv" x="620" y="411">4</text></g>
<g id="la-2"><circle class="bn" cx="594" cy="448" r="8.5"/><text class="lv" x="602" y="438">2</text></g>
<g id="la-13"><circle class="bn" cx="686" cy="445" r="8.5"/><text class="lv" x="700" y="435">13</text></g>
<g id="la-14"><circle class="bn" cx="724" cy="409" r="8.5"/><text class="lv" x="737" y="399">14</text></g>
<g id="la-3"><circle class="bn" cx="557" cy="483" r="8.5"/><text class="lv" x="540" y="481">3</text></g>
<g id="la-5"><circle class="bn" cx="593" cy="482" r="8.5"/><text class="lv" x="583" y="474">5</text></g>
<g id="la-6"><circle class="bn" cx="642" cy="480" r="8.5"/><text class="lv" x="628" y="471">6</text></g>
<g id="la-8"><circle class="bn" cx="592" cy="519" r="8.5"/><text class="lv" x="576" y="514">8</text></g>
<g id="la-12"><circle class="bn" cx="642" cy="509" r="8.5"/><text class="lv" x="647" y="529">12</text></g>
<g id="la-9"><circle class="bn" cx="668" cy="509" r="8.5"/><text class="lv" x="655" y="502">9</text></g>
<g id="la-11"><circle class="bn" cx="640" cy="537" r="8.5"/><text class="lv" x="655" y="563">11</text></g>
<g id="la-15"><circle class="bn" cx="704" cy="482" r="8.5"/><text class="lv" x="723" y="501">15</text></g>
<g id="la-16"><circle class="bn" cx="704" cy="537" r="8.5"/><text class="lv" x="722" y="563">16</text></g>
<g id="la-7"><circle class="bn" cx="558" cy="536" r="8.5"/><text class="lv" x="540" y="558">7</text></g>
<g id="la-10"><circle class="bn" cx="592" cy="555" r="8.5"/><text class="lv" x="580" y="579">10</text></g>
<g id="la-37"><circle class="bn" cx="651" cy="606" r="8.5"/><text class="lv" x="670" y="598">37</text></g>
<g id="la-38"><circle class="bn" cx="688" cy="589" r="8.5"/><text class="lv" x="708" y="584">38</text></g>
<g id="la-43"><circle class="bn" cx="536" cy="572" r="8.5"/><text class="lv" x="518" y="563">43</text></g>
<g id="la-42"><circle class="bn" cx="556" cy="605" r="8.5"/><text class="lv" x="571" y="598">42</text></g>
<g id="la-36"><circle class="bn" cx="593" cy="627" r="8.5"/><text class="lv" x="574" y="651">36</text></g>
<g id="la-44"><circle class="bn" cx="538" cy="626" r="8.5"/><text class="lv" x="518" y="650">44</text></g>
<g id="la-41"><circle class="bn" cx="556" cy="643" r="8.5"/><text class="lv" x="535" y="664">41</text></g>
<g id="la-40"><circle class="bn" cx="595" cy="680" r="8.5"/><text class="lv" x="606" y="706">40</text></g>
<g id="la-39"><circle class="bn" cx="649" cy="677" r="8.5"/><text class="lv" x="634" y="703">39</text></g>
<g id="la-35"><circle class="bn" cx="742" cy="660" r="8.5"/><text class="lv" x="757" y="685">35</text></g>
<g id="la-34"><circle class="bn" cx="797" cy="642" r="8.5"/><text class="lv" x="810" y="668">34</text></g>
<g id="la-33"><circle class="bn" cx="853" cy="680" r="8.5"/><text class="lv" x="867" y="704">33</text></g>
<g id="la-32"><circle class="bn" cx="908" cy="680" r="8.5"/><text class="lv" x="926" y="703">32</text></g>
<g id="la-31"><circle class="bn" cx="874" cy="643" r="8.5"/><text class="lv" x="853" y="634">31</text></g>
<g id="la-30"><circle class="bn" cx="908" cy="607" r="8.5"/><text class="lv" x="930" y="626">30</text></g>
<g id="la-29"><circle class="bn" cx="892" cy="588" r="8.5"/><text class="lv" x="912" y="584">29</text></g>
<g id="la-28"><circle class="bn" cx="835" cy="607" r="8.5"/><text class="lv" x="855" y="626">28</text></g>
<g id="la-27"><circle class="bn" cx="799" cy="571" r="8.5"/><text class="lv" x="777" y="566">27</text></g>
<g id="la-26"><circle class="bn" cx="853" cy="554" r="8.5"/><text class="lv" x="873" y="550">26</text></g>
<g id="la-23"><circle class="bn" cx="836" cy="517" r="8.5"/><text class="lv" x="816" y="538">23</text></g>
<g id="la-22"><circle class="bn" cx="869" cy="483" r="8.5"/><text class="lv" x="887" y="507">22</text></g>
<g id="la-24"><circle class="bn" cx="909" cy="482" r="8.5"/><text class="lv" x="928" y="505">24</text></g>
<g id="la-25"><circle class="bn" cx="908" cy="438" r="8.5"/><text class="lv" x="895" y="429">25</text></g>
<g id="la-21"><circle class="bn" cx="873" cy="427" r="8.5"/><text class="lv" x="892" y="420">21</text></g>
<g id="la-19"><circle class="bn" cx="835" cy="463" r="8.5"/><text class="lv" x="851" y="455">19</text></g>
<g id="la-17"><circle class="bn" cx="758" cy="472" r="8.5"/><text class="lv" x="742" y="496">17</text></g>
<g id="la-18"><circle class="bn" cx="798" cy="427" r="8.5"/><text class="lv" x="778" y="421">18</text></g>
<g id="la-20"><circle class="bn" cx="852" cy="409" r="8.5"/><text class="lv" x="866" y="399">20</text></g>
</g>
<g id="la-title"><rect class="tag" x="607.5" y="679.5" width="215" height="50"/><text class="ttl" x="617" y="716">Link Addition</text></g>
</svg>
